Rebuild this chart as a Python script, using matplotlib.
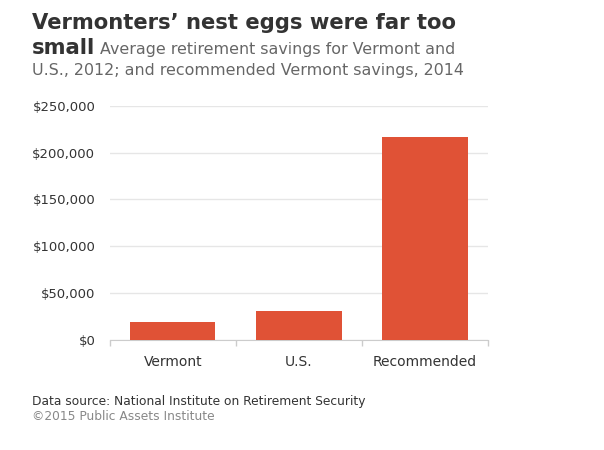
import matplotlib.pyplot as plt
from matplotlib.ticker import FuncFormatter

# data
categories = ['Vermont', 'U.S.', 'Recommended']
savings = [18800, 30300, 216500]
y_ticks = [0, 50000, 100000, 150000, 200000, 250000]

plt.rcParams['font.family'] = ['DejaVu Sans']

fig = plt.figure(figsize=(6.04, 4.5), dpi=100)
ax = fig.add_axes([0.182, 0.245, 0.626, 0.52])

x = range(len(categories))
ax.bar(x, savings, width=0.675, color='#e05236', zorder=3)

ax.set_xlim(-0.5, len(categories) - 0.5)
ax.set_ylim(0, 250000)
ax.set_yticks(y_ticks)
ax.yaxis.set_major_formatter(FuncFormatter(lambda v, p: '${:,.0f}'.format(v)))
ax.set_xticks(list(x))
ax.set_xticklabels(categories)

# minor ticks on the category borders
ax.set_xticks([-0.5, 0.5, 1.5, 2.5], minor=True)
ax.tick_params(axis='x', which='major', length=0, pad=11, labelsize=10,
               labelcolor='#333333')
ax.tick_params(axis='x', which='minor', length=4, color='#cccccc', width=1)
ax.tick_params(axis='y', length=0, pad=10.5, labelsize=9.45,
               labelcolor='#333333')

ax.grid(axis='y', color='#e6e6e6', linewidth=1, zorder=0)
for s in ['top', 'right', 'left']:
    ax.spines[s].set_visible(False)
ax.spines['bottom'].set_color('#cccccc')

# title and subtitle
fig.text(32 / 604, 1 - 29 / 450, 'Vermonters\u2019 nest eggs were far too',
         fontsize=15.2, fontweight='bold', color='#333333', va='baseline')
fig.text(32 / 604, 1 - 54 / 450, 'small', fontsize=15.2, fontweight='bold',
         color='#333333', va='baseline')
fig.text(100 / 604, 1 - 54 / 450,
         'Average retirement savings for Vermont and',
         fontsize=11.4, color='#666666', va='baseline')
fig.text(32 / 604, 1 - 75 / 450,
         'U.S., 2012; and recommended Vermont savings, 2014',
         fontsize=11.4, color='#666666', va='baseline')

# footer
fig.text(32 / 604, 1 - 401 / 450,
         'Data source: National Institute on Retirement Security',
         fontsize=8.85, color='#333333', va='center')
fig.text(32 / 604, 1 - 416 / 450, '\u00a92015 Public Assets Institute',
         fontsize=8.85, color='#888888', va='center')

plt.savefig('out.png', dpi=100)
